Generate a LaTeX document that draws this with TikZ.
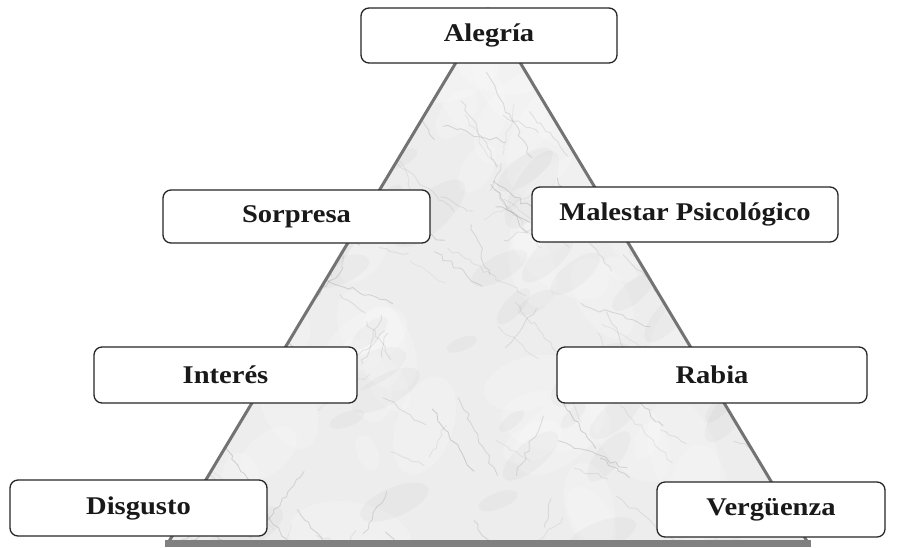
\documentclass[tikz,border=0pt]{standalone}
\usepackage{fontspec}
\setmainfont[FakeStretch=1.12]{Liberation Serif}
\usetikzlibrary{decorations.pathmorphing}
\begin{document}
\begin{tikzpicture}[x=1pt,y=-1pt,
  ebox/.style={draw=black!85, line width=1.3pt, rounded corners=8pt, fill=white,
    minimum height=55pt, inner sep=0pt,
    font=\fontsize{25.5}{28}\selectfont\bfseries, text=black!90},
  vein/.style={black!50, line width=0.9pt, line cap=round, decorate,
    decoration={random steps, segment length=6pt, amplitude=2.5pt}}]
\useasboundingbox (0,0) rectangle (899,547);
\fill[white] (0,0) rectangle (899,547);
% marble triangle
\begin{scope}
  \clip (488,7) -- (808,543) -- (168,543) -- cycle;
  \fill[black!7] (150,0) rectangle (830,547);
  \pgfmathsetseed{11}
  \foreach \i in {1,...,70} {
    \pgfmathsetmacro\xa{170+rnd*640}
    \pgfmathsetmacro\ya{10+rnd*535}
    \pgfmathsetmacro\rr{10+rnd*25}
    \pgfmathsetmacro\ang{rnd*180}
    \fill[white, opacity=0.18, rotate around={\ang:(\xa,\ya)}] (\xa,\ya) ellipse ({\rr*1.8} and \rr);
  }
  \foreach \i in {1,...,60} {
    \pgfmathsetmacro\xa{170+rnd*640}
    \pgfmathsetmacro\ya{10+rnd*535}
    \pgfmathsetmacro\rr{6+rnd*14}
    \pgfmathsetmacro\ang{20+rnd*40}
    \fill[black, opacity=0.022, rotate around={\ang:(\xa,\ya)}] (\xa,\ya) ellipse ({\rr*2.5} and \rr);
  }
  \foreach \i in {1,...,120} {
    \pgfmathsetmacro\xa{170+rnd*640}
    \pgfmathsetmacro\ya{10+rnd*535}
    \pgfmathsetmacro\ang{10+rnd*60}
    \pgfmathsetmacro\len{25+rnd*80}
    \pgfmathsetmacro\op{0.08+rnd*0.22}
    \draw[vein, opacity=\op] (\xa,\ya) -- ++(\ang:\len);
  }
  \foreach \i in {1,...,45} {
    \pgfmathsetmacro\xa{170+rnd*640}
    \pgfmathsetmacro\ya{10+rnd*535}
    \pgfmathsetmacro\ang{100+rnd*60}
    \pgfmathsetmacro\len{20+rnd*50}
    \pgfmathsetmacro\op{0.08+rnd*0.18}
    \draw[vein, opacity=\op] (\xa,\ya) -- ++(\ang:\len);
  }
\end{scope}
\draw[line width=3pt, black!55, line join=round] (168,543) -- (488,9) -- (808,543);
\draw[line width=7pt, black!50] (165,543.5) -- (811,543.5);
% boxes
\node[ebox, minimum width=256pt] (alegria) at (489,35.5) {Alegría};
\node[ebox, minimum width=267pt, minimum height=53pt] (sorpresa) at (296.5,216.5) {Sorpresa};
\node[ebox, minimum width=306pt] (malestar) at (685,214.5) {Malestar Psicológico};
\node[ebox, minimum width=263pt, minimum height=56pt] (interes) at (225.5,375) {Interés};
\node[ebox, minimum width=310pt, minimum height=56pt] (rabia) at (712,375) {Rabia};
\node[ebox, minimum width=257pt, minimum height=56pt] (disgusto) at (138.5,508) {Disgusto};
\node[ebox, minimum width=228pt] (verguenza) at (771,509.5) {Vergüenza};
\end{tikzpicture}
\end{document}
